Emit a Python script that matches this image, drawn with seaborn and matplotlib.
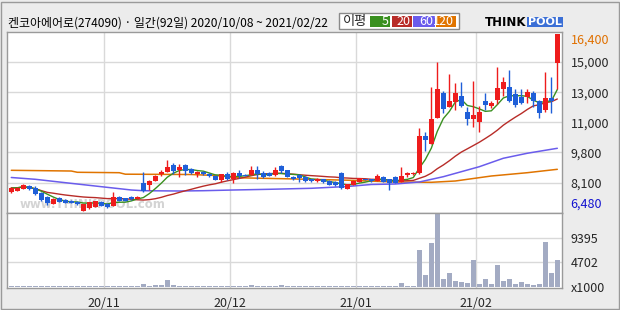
import numpy as np
import pandas as pd
import matplotlib
matplotlib.use("Agg")
import matplotlib.pyplot as plt
import seaborn as sns
from matplotlib.patches import Rectangle

# ---------------- data ----------------
title_text = "켄코아에어로(274090) · 일간(92일) 2020/10/08 ~ 2021/02/22"
month_labels = ["20/11", "20/12", "21/01", "21/02"]
month_first_day = [16, 37, 58, 78]
price_tick_labels = ["15,000", "13,000", "11,000", "9,800", "8,100"]
max_label = "16,400"
min_label = "6,480"
max_price = 16400
min_price = 6480
vol_tick_values = [0, 4702, 9395]
vol_tick_labels = ["x1000", "4702", "9395"]
legend_title = "이평"
ma_labels = ["5", "20", "60", "120"]

opens = [7540, 7620, 7730, 7900, 7790, 7490, 7260, 6870, 7220, 7100,
         7040, 6980, 6500, 6630, 6700, 7010, 6870, 6780, 7280, 7190,
         7280, 7170, 8060, 7940, 8180, 8540, 8680, 9060, 8780, 9060,
         8820, 8550, 8680, 8550, 8440, 8220, 8550, 8250, 8620, 8520,
         8500, 8780, 8620, 8620, 8500, 9000, 8780, 8400, 8500, 8370,
         8250, 8180, 8250, 8160, 8120, 8610, 7710, 7940, 8120, 8270,
         8260, 8180, 8390, 8260, 8380, 8120, 8500, 8540, 8590, 10680,
         10240, 11710, 13110, 12330, 12600, 12930, 12040, 11630, 11480, 12640,
         12360, 12700, 13300, 13450, 13040, 12880, 12880, 13110, 12660, 12140,
         12800, 14760]
highs = [7800, 7830, 8000, 7950, 7900, 7520, 7300, 7180, 7260, 7130,
         7100, 7040, 6880, 6990, 7060, 7040, 6900, 7560, 7300, 7220,
         7320, 7320, 8680, 8220, 8500, 8780, 9340, 9150, 9100, 9100,
         8900, 8720, 8720, 8620, 8470, 8580, 8670, 8650, 8780, 8550,
         9000, 9000, 8700, 8650, 8930, 9060, 8800, 8440, 8530, 8440,
         8290, 8330, 8290, 8190, 8140, 8640, 8010, 8200, 8350, 8300,
         8290, 8550, 8420, 8290, 8420, 8960, 8680, 8660, 11120, 10920,
         13440, 14830, 13220, 14160, 13670, 13730, 12290, 13780, 12370, 13110,
         12660, 14570, 14000, 14380, 13330, 13330, 13330, 13200, 12700, 14250,
         14000, 16400]
lows = [7500, 7600, 7700, 7680, 7360, 7060, 6820, 6850, 6960, 6920,
        6900, 6830, 6480, 6600, 6680, 6750, 6630, 6750, 7030, 7030,
        7100, 7150, 7560, 7650, 8150, 8440, 8650, 8560, 8370, 8500,
        8530, 8400, 8500, 8380, 8200, 8130, 8200, 8030, 8340, 8420,
        8480, 8290, 8330, 8420, 8420, 8590, 8380, 8220, 8130, 8100,
        8130, 8130, 8060, 7910, 7880, 7700, 7690, 7920, 8100, 8190,
        8130, 8160, 8100, 7660, 8040, 8100, 8400, 8520, 8560, 9860,
        10220, 11680, 11990, 12300, 12140, 12290, 11300, 11170, 10920, 12140,
        12230, 12480, 12900, 12600, 12330, 12480, 12520, 12330, 11710, 12050,
        11960, 13300]
closes = [7770, 7790, 7940, 7710, 7420, 7100, 6930, 7150, 7000, 6950,
          6950, 6870, 6860, 6970, 7040, 6780, 6720, 7250, 7060, 7060,
          7130, 7280, 7620, 8180, 8460, 8650, 8960, 8720, 8960, 8740,
          8630, 8680, 8550, 8440, 8220, 8550, 8250, 8620, 8440, 8440,
          8780, 8540, 8370, 8460, 8780, 8740, 8400, 8270, 8350, 8180,
          8160, 8270, 8080, 7940, 7940, 7790, 7990, 8180, 8310, 8220,
          8160, 8440, 8120, 8030, 8060, 8460, 8590, 8630, 10680, 10460,
          11640, 13320, 12200, 12660, 13110, 12370, 11630, 11860, 12040, 12420,
          12520, 13360, 13730, 12660, 12420, 12550, 13170, 12640, 11950, 12800,
          12660, 16400]
# volume in thousands of shares
volumes = [160, 160, 160, 160, 160, 160, 160, 160, 160, 160,
           160, 160, 160, 160, 160, 160, 160, 160, 160, 160,
           160, 160, 520, 180, 330, 330, 1290, 330, 160, 160,
           160, 160, 160, 160, 160, 160, 160, 160, 160, 160,
           330, 160, 160, 160, 160, 330, 160, 160, 160, 160,
           160, 160, 160, 160, 160, 160, 160, 160, 160, 160,
           160, 160, 160, 160, 160, 770, 200, 200, 7050, 2250,
           8450, 13960, 1480, 2690, 1150, 900, 770, 5130, 580, 1480,
           580, 4170, 1150, 1480, 580, 960, 580, 380, 580, 8580,
           2690, 5130]
# 60- and 120-day averages need history before the window: vertices
ma60_days = [0, 4, 9, 15, 20, 22, 28, 32, 37, 43, 50, 56, 60, 64, 68, 72, 78, 82, 86, 91]
ma60_vals = [8357, 8256, 8066, 7842, 7656, 7617, 7600, 7617, 7656, 7696,
             7752, 7853, 7965, 7993, 8105, 8402, 8962, 9435, 9716, 9994]
ma120_days = [0, 10, 11, 18, 19, 30, 34, 38, 46, 56, 64, 70, 74, 80, 86, 91]
ma120_vals = [8760, 8720, 8649, 8626, 8542, 8525, 8469, 8340, 8284, 8206,
              8105, 8088, 8161, 8441, 8626, 8816]

# ---------------- styling ----------------
sns.set_theme(style="white")
FONT = ["Noto Sans CJK KR", "DejaVu Sans"]
plt.rcParams["font.family"] = FONT

C_UP = "#ee1c1c"
C_DN = "#1f5fd8"
C_MA = ["#3a9020", "#b82c28", "#6a5cec", "#e07400"]
C_VOL = "#a3abc3"
C_GRID = "#d9d9d9"
C_SPINE = "#9a9a9a"

W, H = 620, 310
fig = plt.figure(figsize=(6.2, 3.1), dpi=100, facecolor="#ececec")

def fx(px):
    return px / W

def fy(py):
    return 1 - py / H

left, right = 7.3, 562.3
ax = fig.add_axes([fx(left), fy(212.7), (right - left) / W, (212.7 - 32) / H])
axv = fig.add_axes([fx(left), fy(288.3), (right - left) / W, (288.3 - 212.7) / H], sharex=ax)
for a in (ax, axv):
    a.set_facecolor("white")
    for s in a.spines.values():
        s.set_color(C_SPINE)
        s.set_linewidth(1)

days = np.arange(len(closes))
o = np.array(opens, float); h = np.array(highs, float)
l = np.array(lows, float); c = np.array(closes, float)
up = c >= o
cols = np.where(up, C_UP, C_DN)

# moving averages
close_s = pd.Series(c)
ma5 = close_s.rolling(5, min_periods=1).mean()
ma20 = close_s.rolling(20, min_periods=1).mean()
sns.lineplot(x=ma120_days, y=ma120_vals, ax=ax, color=C_MA[3], lw=1.1, zorder=2)
sns.lineplot(x=ma60_days, y=ma60_vals, ax=ax, color=C_MA[2], lw=1.1, zorder=2)
sns.lineplot(x=days, y=ma20.values, ax=ax, color=C_MA[1], lw=1.0, zorder=2)
sns.lineplot(x=days, y=ma5.values, ax=ax, color=C_MA[0], lw=1.0, zorder=2)

# candles
ax.vlines(days, l, h, colors=cols, lw=1, zorder=3)
body_bottom = np.minimum(o, c)
body_h = np.maximum(np.abs(c - o), 45)
ax.bar(days, body_h, bottom=body_bottom, width=0.8, color=cols, linewidth=0, zorder=4)

# watermark
ax.text(0.153, 0.045, "www.THINKPOOL.com", transform=ax.transAxes, ha="center", va="center",
        fontsize=8.5, fontweight="bold", color="#d4d4d4", family="DejaVu Sans", zorder=1)

# volume
sns.barplot(x=days, y=volumes, ax=axv, native_scale=True, orient="x", color=C_VOL,
            saturation=1, width=0.75, errorbar=None, linewidth=0)

# axes limits / ticks
ylo, yhi = 6384, 16512
ax.set_ylim(ylo, yhi)
axv.set_ylim(-307, 14186)
ax.set_xlim(-0.667, 91.83)

grid_x = [d - 0.5 for d in month_first_day]
for a in (ax, axv):
    a.set_xticks(grid_x)
    a.grid(axis="x", color=C_GRID, lw=1)
    a.set_axisbelow(True)
ax.tick_params(axis="x", labelbottom=False, length=0)
axv.set_xticklabels(month_labels)
axv.tick_params(axis="x", length=0, pad=6, labelsize=9)
axv.set_xlabel("")

ax.yaxis.tick_right()
ax.set_yticks(np.linspace(ylo, yhi, 7)[1:-1])
ax.set_yticklabels(price_tick_labels[::-1])
ax.tick_params(axis="y", length=0, pad=6, labelsize=9)
ax.grid(axis="y", color=C_GRID, lw=1)

axv.yaxis.tick_right()
axv.set_yticks(vol_tick_values)
axv.set_yticklabels(vol_tick_labels)
axv.tick_params(axis="y", length=0, pad=6, labelsize=9)
axv.grid(axis="y", color=C_GRID, lw=1)
axv.get_ygridlines()[0].set_visible(False)
axv.set_ylabel("")

ax.annotate(max_label, xy=(1, max_price), xycoords=("axes fraction", "data"),
            xytext=(6, 0), textcoords="offset points", ha="left", va="top",
            fontsize=9, color="#e07000")
ax.annotate(min_label, xy=(1, min_price), xycoords=("axes fraction", "data"),
            xytext=(6, 0), textcoords="offset points", ha="left", va="bottom",
            fontsize=9, color="#1414d0")

# header: title
fig.text(fx(8), fy(23.5), title_text, ha="left", va="center", fontsize=8.6, color="black")

# header: MA legend box
fig.patches.append(Rectangle((fx(339), fy(28.7)), 120 / W, 16 / H, transform=fig.transFigure,
                             facecolor="white", edgecolor="#8a8a8a", lw=1))
fig.text(fx(343), fy(21), legend_title, ha="left", va="center", fontsize=9.5)
box_x = [(370, 390), (391.7, 411.7), (413.3, 435), (436, 455.7)]
for (x0, x1), colr, lab in zip(box_x, C_MA, ma_labels):
    fig.patches.append(Rectangle((fx(x0), fy(26.7)), (x1 - x0) / W, 10.7 / H,
                                 transform=fig.transFigure, facecolor=colr, edgecolor="none"))
    fig.text(fx(x1 - 1.5), fy(21.5), lab, ha="right", va="center", fontsize=9, color="white")

# header: logo
fig.text(fx(526), fy(22), "THINK", ha="right", va="center", fontsize=8.5,
         fontweight="bold", color="black", family="DejaVu Sans")
fig.patches.append(Rectangle((fx(526.7), fy(27.3)), 36.6 / W, 10.6 / H,
                             transform=fig.transFigure, facecolor="#3b6fd6", edgecolor="none"))
fig.text(fx(545), fy(22), "POOL", ha="center", va="center", fontsize=8,
         fontweight="bold", color="white", family="DejaVu Sans")

# outer frame
fig.patches.append(Rectangle((fx(1), fy(308.5)), 617.5 / W, 307 / H, transform=fig.transFigure,
                             facecolor="none", edgecolor="#9a9a9a", lw=1))

fig.savefig("out.png", dpi=100, facecolor=fig.get_facecolor())
